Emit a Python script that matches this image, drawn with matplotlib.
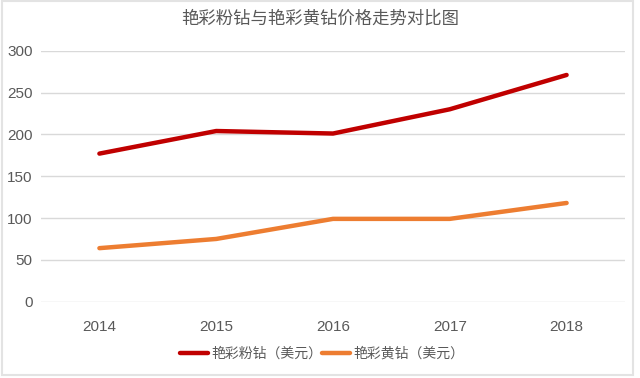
import matplotlib
matplotlib.use("Agg")
import matplotlib.pyplot as plt
from matplotlib.patches import Rectangle

plt.rcParams['font.family'] = ['Liberation Sans', 'Noto Sans CJK SC', 'DejaVu Sans']

years = ["2014", "2015", "2016", "2017", "2018"]
pink_prices = [177, 204, 201, 230, 271]
yellow_prices = [64, 75, 99, 99, 118]
yticks = [0, 50, 100, 150, 200, 250, 300]
title = "艳彩粉钻与艳彩黄钻价格走势对比图"
pink_label = "艳彩粉钻（美元）"
yellow_label = "艳彩黄钻（美元）"

W, H = 640, 378
fig = plt.figure(figsize=(W/100, H/100), dpi=100)
fig.patch.set_facecolor("white")

left, right = 41, 625
top, bottom = 50.7, 301.7
ax = fig.add_axes([left/W, 1-bottom/H, (right-left)/W, (bottom-top)/H])

x = list(range(len(years)))
ax.plot(x, pink_prices, color="#C00000", lw=3.2, solid_capstyle="round",
        solid_joinstyle="round", label=pink_label)
ax.plot(x, yellow_prices, color="#ED7D31", lw=3.2, solid_capstyle="round",
        solid_joinstyle="round", label=yellow_label)

ax.set_xlim(-0.5, len(years)-0.5)
ax.set_ylim(0, 300)
ax.set_yticks(yticks)
ax.set_xticks(x)
ax.set_xticklabels(years)
ax.grid(axis="y", color="#d9d9d9", lw=1)
ax.set_axisbelow(True)
for s in ax.spines.values():
    s.set_visible(False)
ax.tick_params(axis="both", length=0, colors="#595959", labelsize=11)
ax.tick_params(axis="y", pad=6)
ax.tick_params(axis="x", pad=13)

fig.text(320/W, 1-19/H, title, ha="center", va="center", fontsize=12.5,
         color="#595959", family=['Noto Sans CJK SC', 'DejaVu Sans'], weight="medium")

leg = fig.legend(loc="center", bbox_to_anchor=(322/W, 1-354/H), ncol=2, frameon=False,
                 fontsize=10, handlelength=2.0, handletextpad=0.25, columnspacing=0.0,
                 labelcolor="#595959", prop={'family': ['Noto Sans CJK SC', 'DejaVu Sans'], 'size': 10})

fig.patches.append(Rectangle((2/W, 1-375/H), 631/W, 374/H, transform=fig.transFigure,
                             fill=False, edgecolor="#e3e3e3", lw=1.5))

fig.savefig("out.png", dpi=100, facecolor="white")
